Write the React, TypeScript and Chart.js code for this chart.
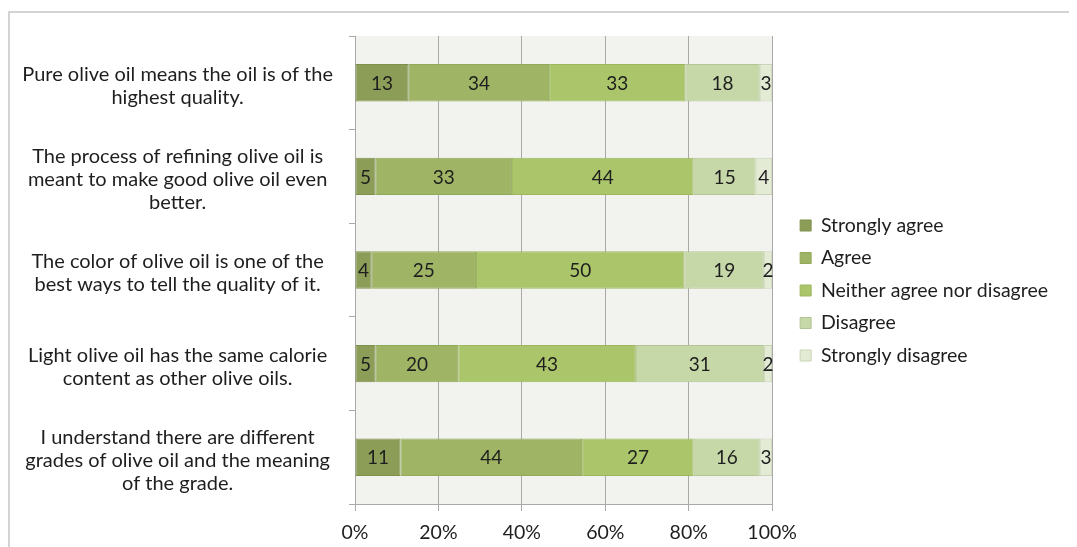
import React, { useEffect, useRef } from "react";
import { Chart, registerables } from "chart.js";

Chart.register(...registerables);

const categories: string[][] = [
  ["Pure olive oil means the oil is of the", "highest quality."],
  ["The process of refining olive oil is", "meant to make good olive oil even", "better."],
  ["The color of olive oil is one of the", "best ways to tell the quality of it."],
  ["Light olive oil has the same calorie", "content as other olive oils."],
  ["I understand there are different", "grades of olive oil and the meaning", "of the grade."],
];

const seriesNames = ["Strongly agree", "Agree", "Neither agree nor disagree", "Disagree", "Strongly disagree"];
const stronglyAgree = [13, 5, 4, 5, 11];
const agree = [34, 33, 25, 20, 44];
const neither = [33, 44, 50, 43, 27];
const disagree = [18, 15, 19, 31, 16];
const stronglyDisagree = [3, 4, 2, 2, 3];
const seriesColors = ["#8c9d58", "#9fb565", "#aac56a", "#c6d7a8", "#e4ebd5"];
const seriesBorders = ["#7f904d", "#92a85a", "#9cb75e", "#b3c592", "#c9d4b6"];
const xTicks = ["0%", "20%", "40%", "60%", "80%", "100%"];

const FONT = "Lato, 'Open Sans', sans-serif";

export default function App() {
  const ref = useRef<HTMLCanvasElement | null>(null);
  useEffect(() => {
    if (!ref.current) return;
    const raw = [stronglyAgree, agree, neither, disagree, stronglyDisagree];
    const totals = categories.map((_, i) => raw.reduce((s, a) => s + a[i], 0));
    const datasets = raw.map((arr, k) => ({
      label: seriesNames[k],
      data: arr.map((v, i) => (v / totals[i]) * 100),
      rawValues: arr,
      backgroundColor: seriesColors[k],
      borderColor: seriesBorders[k],
      borderWidth: 1,
      borderSkipped: false,
      categoryPercentage: 1,
      barPercentage: 0.4,
      yAxisID: "y",
    }));

    const bgPlugin = {
      id: "plotBg",
      beforeDraw(chart: any) {
        const { ctx, chartArea } = chart;
        ctx.save();
        ctx.fillStyle = "#f2f3ee";
        ctx.fillRect(chartArea.left, chartArea.top, chartArea.right - chartArea.left, chartArea.bottom - chartArea.top);
        ctx.restore();
      },
    };
    const labelPlugin = {
      id: "segLabels",
      afterDatasetsDraw(chart: any) {
        const { ctx } = chart;
        ctx.save();
        ctx.font = `19px ${FONT}`;
        ctx.fillStyle = "#1e1e1e";
        ctx.textAlign = "center";
        ctx.textBaseline = "middle";
        chart.data.datasets.forEach((ds: any, di: number) => {
          const meta = chart.getDatasetMeta(di);
          meta.data.forEach((bar: any, i: number) => {
            const cx = (bar.x + bar.base) / 2;
            ctx.fillText(String(ds.rawValues[i]), cx, bar.y + 1);
          });
        });
        ctx.restore();
      },
    };

    const chart = new Chart(ref.current, {
      type: "bar",
      data: { labels: categories, datasets: datasets as any },
      plugins: [bgPlugin, labelPlugin],
      options: {
        indexAxis: "y",
        animation: false,
        responsive: true,
        maintainAspectRatio: false,
        layout: { padding: { left: 0, top: 28, right: 19, bottom: 2 } },
        plugins: {
          tooltip: { enabled: false },
          legend: {
            position: "right",
            maxWidth: 400,
            labels: {
              boxWidth: 11,
              boxHeight: 11,
              padding: 13,
              color: "#1e1e1e",
              font: { family: FONT, size: 19.5 },
            },
          },
        },
        scales: {
          x: {
            stacked: true,
            min: 0,
            max: 100,
            ticks: {
              stepSize: 20,
              color: "#1e1e1e",
              padding: 10,
              font: { family: FONT, size: 19.5 },
              callback: (_v: any, i: number) => xTicks[i],
            },
            grid: { color: "#a9a9a9", lineWidth: 1, tickLength: 7, drawTicks: true },
            border: { color: "#a9a9a9", width: 1 },
            afterFit: (s: any) => {
              s.height = 41;
            },
          },
          y: {
            stacked: true,
            ticks: {
              color: "#1e1e1e",
              padding: 16,
              labelOffset: 3,
              crossAlign: "center",
              font: { family: FONT, size: 20, lineHeight: 1.15 },
            },
            grid: { drawOnChartArea: false, color: "#a9a9a9", tickLength: 6, offset: true },
            border: { color: "#a9a9a9", width: 1 },
            afterFit: (s: any) => {
              s.width = 347;
              s.paddingTop = 0;
              s.paddingBottom = 0;
            },
          },
          gap: {
            type: "category",
            position: "right",
            display: true,
            grid: { display: false },
            border: { display: false },
            ticks: { display: false },
            afterFit: (s: any) => {
              s.width = 15;
              s.paddingTop = 0;
              s.paddingBottom = 0;
            },
          },
        },
      } as any,
    });
    return () => chart.destroy();
  }, []);

  return (
    <div style={{ position: "relative", width: 1069, height: 539 }}>
      <div
        style={{
          position: "absolute",
          left: 0,
          top: 3,
          right: 0,
          bottom: 0,
          borderTop: "2px solid #d4d4d4",
          borderLeft: "2px solid #d4d4d4",
        }}
      />
      <canvas ref={ref} style={{ position: "absolute", left: 0, top: 0, width: 1069, height: 539 }} />
    </div>
  );
}
